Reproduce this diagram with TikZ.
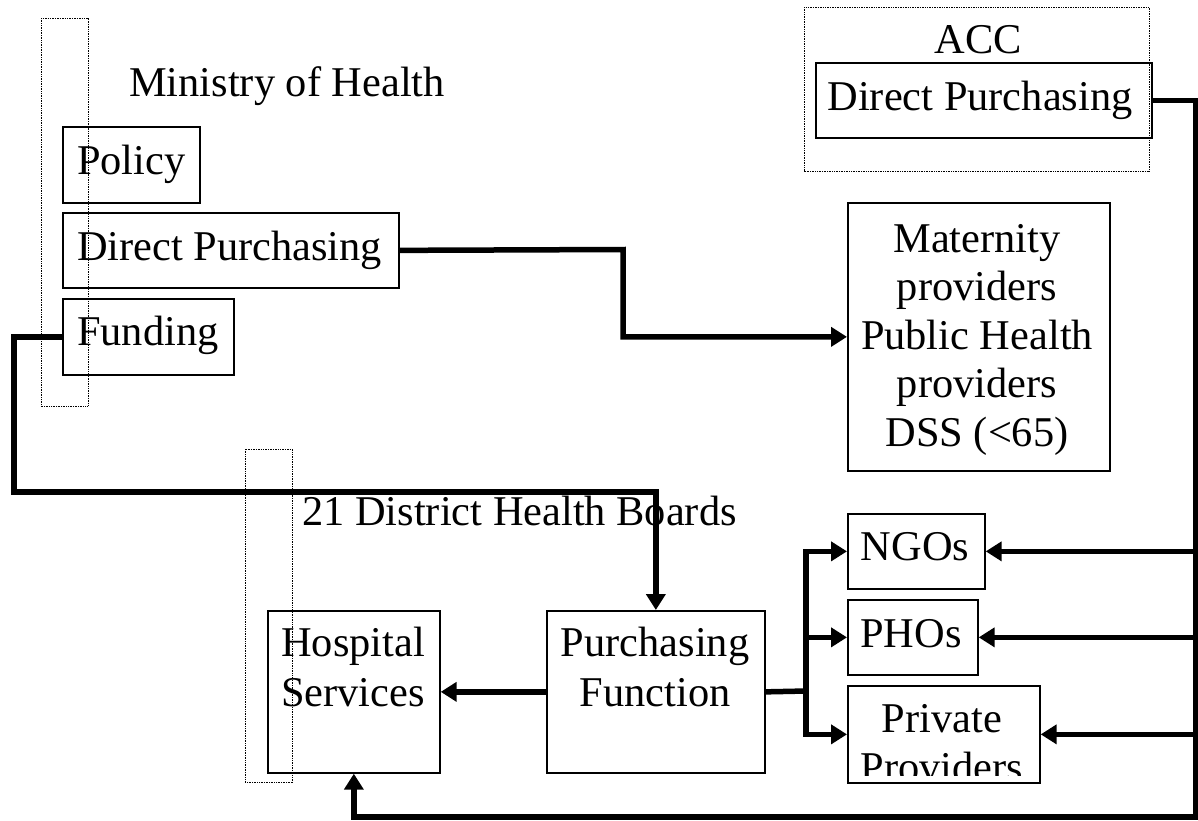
\documentclass[tikz,border=0pt]{standalone}
\usepackage{fontspec}
\setmainfont{Liberation Serif}
\usetikzlibrary{arrows.meta}
\begin{document}
\begin{tikzpicture}[x=1pt,y=-1pt,line join=miter,
  box/.style={draw, line width=1.7pt, inner sep=0pt, anchor=north west},
  dotbox/.style={draw, line width=1pt, dash pattern=on 1pt off 0.7pt},
  txt/.style={inner sep=0pt, anchor=base, font=\fontsize{42.4}{48}\selectfont},
  ltxt/.style={txt, anchor=base west},
  conn/.style={line width=5.5pt},
  arr/.style={conn, -{Triangle[length=16pt,width=19pt]}}]
\useasboundingbox (0,0) rectangle (1198,820);

% dotted grouping frames
\draw[dotbox] (41,18) rectangle (88,406);
\draw[dotbox] (245,449) rectangle (292,782);
\draw[dotbox] (804,7) rectangle (1149,171);

% boxes
\node[box, minimum width=137pt, minimum height=76pt] (pol) at (62,126) {};
\node[box, minimum width=336pt, minimum height=75pt] (mdp) at (62,212) {};
\node[box, minimum width=171pt, minimum height=76pt] (fund) at (62,298) {};
\node[box, minimum width=262pt, minimum height=268pt] (mat) at (847,202) {};
\node[box, minimum width=336pt, minimum height=75pt] (accdp) at (815,62) {};
\node[box, minimum width=172pt, minimum height=162pt] (hosp) at (267,610) {};
\node[box, minimum width=218pt, minimum height=162pt] (purch) at (546,610) {};
\node[box, minimum width=137pt, minimum height=75pt] (ngo) at (847,513) {};
\node[box, minimum width=130pt, minimum height=75pt] (pho) at (847,599) {};
\node[box, minimum width=192pt, minimum height=97pt] (priv) at (847,685) {};

% texts
\node[ltxt] (tmoh) at (129,96) {Ministry of Health};
\node[ltxt] (tpol) at (77,174) {Policy};
\node[ltxt] (tmdp) at (77,260) {Direct Purchasing};
\node[ltxt] (tfund) at (77,345) {Funding};
\node[txt] (tacc) at (978,53) {ACC};
\node[txt] (taccdp) at (980,110) {Direct Purchasing};
\node[txt] (tmat1) at (977,252) {Maternity};
\node[txt] (tmat2) at (977,300) {providers};
\node[txt] (tmat3) at (977,349) {Public Health};
\node[txt] (tmat4) at (977,397) {providers};
\node[txt] (tmat5) at (977,446) {DSS (<65)};
\node[ltxt] (tdhb) at (302,525) {21 District Health Boards};
\node[ltxt] (thosp1) at (281,656) {Hospital};
\node[ltxt] (thosp2) at (281,706) {Services};
\node[txt] (tpur1) at (655,656) {Purchasing};
\node[txt] (tpur2) at (655,706) {Function};
\node[txt] (tngo) at (915,560) {NGOs};
\node[txt] (tpho) at (911,647) {PHOs};
\node[txt] (tpriv1) at (942,732) {Private};
\begin{scope}
  \clip (849,687) rectangle (1037,775);
  \node[txt] (tpriv2) at (942,781) {Providers};
\end{scope}

% connectors
\coordinate (rt) at (1196,0);
\coordinate (jn) at (806,691);
\draw[arr] (mdp.east) -- (623,249.5) |- (mat.west);
\draw[arr] (fund.west) -| (14,492) -| (purch.north);
\draw[arr] (accdp.east) -| (1196,817) -| (hosp.south);
\draw[arr] (ngo.east -| rt) -- (ngo.east);
\draw[arr] (pho.east -| rt) -- (pho.east);
\draw[arr] (priv.east -| rt) -- (priv.east);
\draw[arr] (purch.west) -- (hosp.east);
\draw[conn] (purch.east) -- (jn);
\draw[arr] (jn) |- (ngo.west);
\draw[arr] (jn) |- (pho.west);
\draw[arr] (jn) |- (priv.west);
\end{tikzpicture}
\end{document}
